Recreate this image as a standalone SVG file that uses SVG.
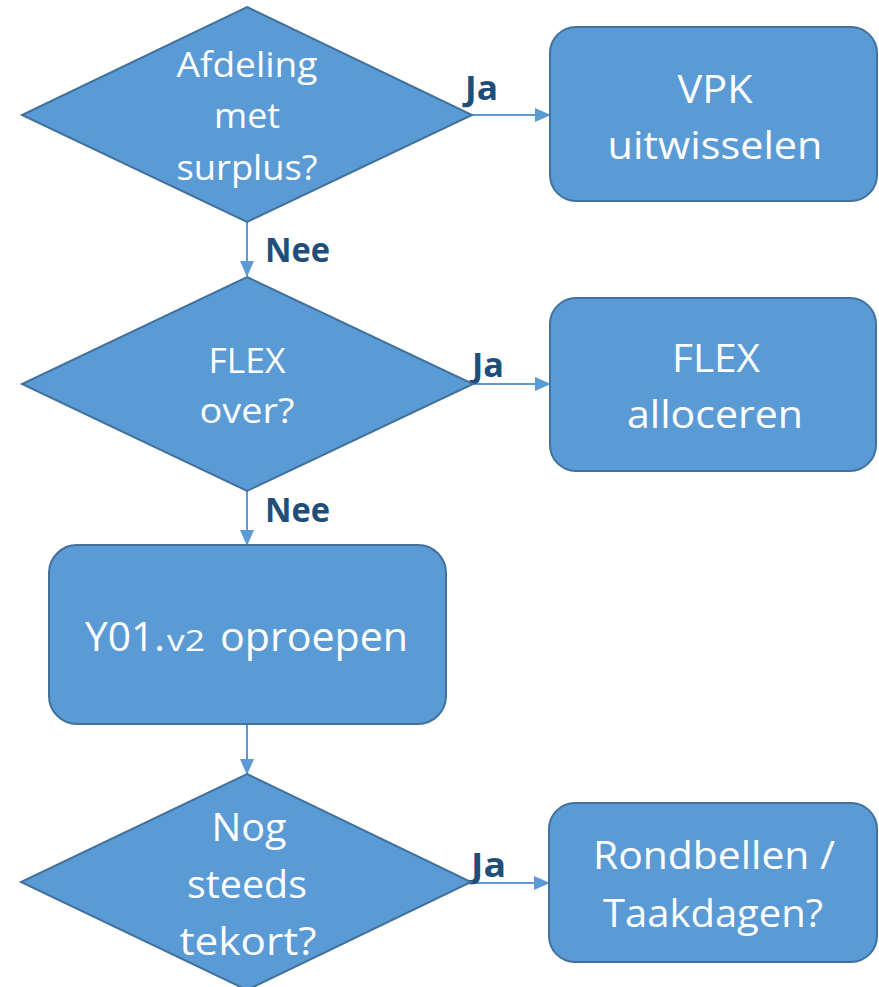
<svg xmlns="http://www.w3.org/2000/svg" width="879" height="987" viewBox="0 0 879 987">
  <defs>
    <marker id="arrow" viewBox="0 0 16 14" refX="15" refY="7" markerWidth="16" markerHeight="14" markerUnits="userSpaceOnUse" orient="auto">
      <path d="M0,0 L16,7 L0,14 Z" fill="#5B9BD5"/>
    </marker>
    <style>
      .shape { fill: #5B9BD5; stroke: #41719C; stroke-width: 2; }
      .txt { fill: #FFFFFF; font-family: "Open Sans", "Liberation Sans", sans-serif; text-anchor: middle; }
      .box { font-size: 39px; }
      .dia { font-size: 35px; }
      .lbl { fill: #1F4E79; font-family: "Open Sans", "Liberation Sans", sans-serif; font-weight: bold; font-size: 34px; }
      .conn { fill: none; stroke: #5B9BD5; stroke-width: 2; marker-end: url(#arrow); }
    </style>
  </defs>
  <rect width="879" height="987" fill="#FFFFFF"/>

  <!-- connectors -->
  <g id="connectors">
    <line class="conn" x1="472" y1="115" x2="550" y2="115"/>
    <line class="conn" x1="247" y1="222" x2="247" y2="276"/>
    <line class="conn" x1="473" y1="384" x2="550" y2="384"/>
    <line class="conn" x1="247" y1="491" x2="247" y2="545"/>
    <line class="conn" x1="247" y1="724" x2="247" y2="774"/>
    <line class="conn" x1="471" y1="883" x2="549" y2="883"/>
    <text class="lbl" x="465" y="100" textLength="33" lengthAdjust="spacingAndGlyphs">Ja</text>
    <text class="lbl" x="265" y="262" textLength="65" lengthAdjust="spacingAndGlyphs">Nee</text>
    <text class="lbl" x="472" y="377" textLength="32" lengthAdjust="spacingAndGlyphs">Ja</text>
    <text class="lbl" x="265" y="522" textLength="65" lengthAdjust="spacingAndGlyphs">Nee</text>
    <text class="lbl" x="471" y="877" textLength="35" lengthAdjust="spacingAndGlyphs">Ja</text>
  </g>

  <!-- decision: surplus -->
  <g id="dec-surplus">
    <polygon class="shape" points="247,7 472,115 247,222 22,115"/>
    <text class="txt dia" x="247" y="77" textLength="141" lengthAdjust="spacingAndGlyphs">Afdeling</text>
    <text class="txt dia" x="247" y="128" textLength="66" lengthAdjust="spacingAndGlyphs">met</text>
    <text class="txt dia" x="247" y="180" textLength="141" lengthAdjust="spacingAndGlyphs">surplus?</text>
  </g>

  <!-- action: VPK -->
  <g id="act-vpk">
    <rect class="shape" x="550" y="27" width="327" height="174" rx="26" ry="26"/>
    <text class="txt box" x="715" y="103" textLength="75" lengthAdjust="spacingAndGlyphs">VPK</text>
    <text class="txt box" x="715" y="159" textLength="215" lengthAdjust="spacingAndGlyphs">uitwisselen</text>
  </g>

  <!-- decision: flex -->
  <g id="dec-flex">
    <polygon class="shape" points="247,277 473,384 247,491 22,384"/>
    <text class="txt dia" x="247" y="373" textLength="77" lengthAdjust="spacingAndGlyphs">FLEX</text>
    <text class="txt dia" x="247" y="423" textLength="95" lengthAdjust="spacingAndGlyphs">over?</text>
  </g>

  <!-- action: flex -->
  <g id="act-flex">
    <rect class="shape" x="550" y="298" width="326" height="173" rx="26" ry="26"/>
    <text class="txt box" x="716" y="372" textLength="88" lengthAdjust="spacingAndGlyphs">FLEX</text>
    <text class="txt box" x="715" y="428" textLength="176" lengthAdjust="spacingAndGlyphs">alloceren</text>
  </g>

  <!-- action: Y01 -->
  <g id="act-y01">
    <rect class="shape" x="49" y="545" width="397" height="179" rx="28" ry="28"/>
    <text class="txt" style="text-anchor:start" y="651">
      <tspan x="85" font-size="41" textLength="80" lengthAdjust="spacingAndGlyphs">Y01.</tspan>
      <tspan x="167" font-size="29" textLength="38" lengthAdjust="spacingAndGlyphs">v2</tspan>
      <tspan x="220" font-size="41" textLength="188" lengthAdjust="spacingAndGlyphs">oproepen</tspan>
    </text>
  </g>

  <!-- decision: shortage -->
  <g id="dec-tekort">
    <polygon class="shape" points="247,774 471,882 247,990 21,882"/>
    <text class="txt" font-size="38" x="249" y="841" textLength="75" lengthAdjust="spacingAndGlyphs">Nog</text>
    <text class="txt" font-size="38" x="247" y="898" textLength="120" lengthAdjust="spacingAndGlyphs">steeds</text>
    <text class="txt" font-size="38" x="248" y="955" textLength="137" lengthAdjust="spacingAndGlyphs">tekort?</text>
  </g>

  <!-- action: call round -->
  <g id="act-rondbellen">
    <rect class="shape" x="549" y="803" width="328" height="159" rx="26" ry="26"/>
    <text class="txt box" x="714" y="869" textLength="242" lengthAdjust="spacingAndGlyphs">Rondbellen /</text>
    <text class="txt box" x="713" y="927" textLength="220" lengthAdjust="spacingAndGlyphs">Taakdagen?</text>
  </g>
</svg>
